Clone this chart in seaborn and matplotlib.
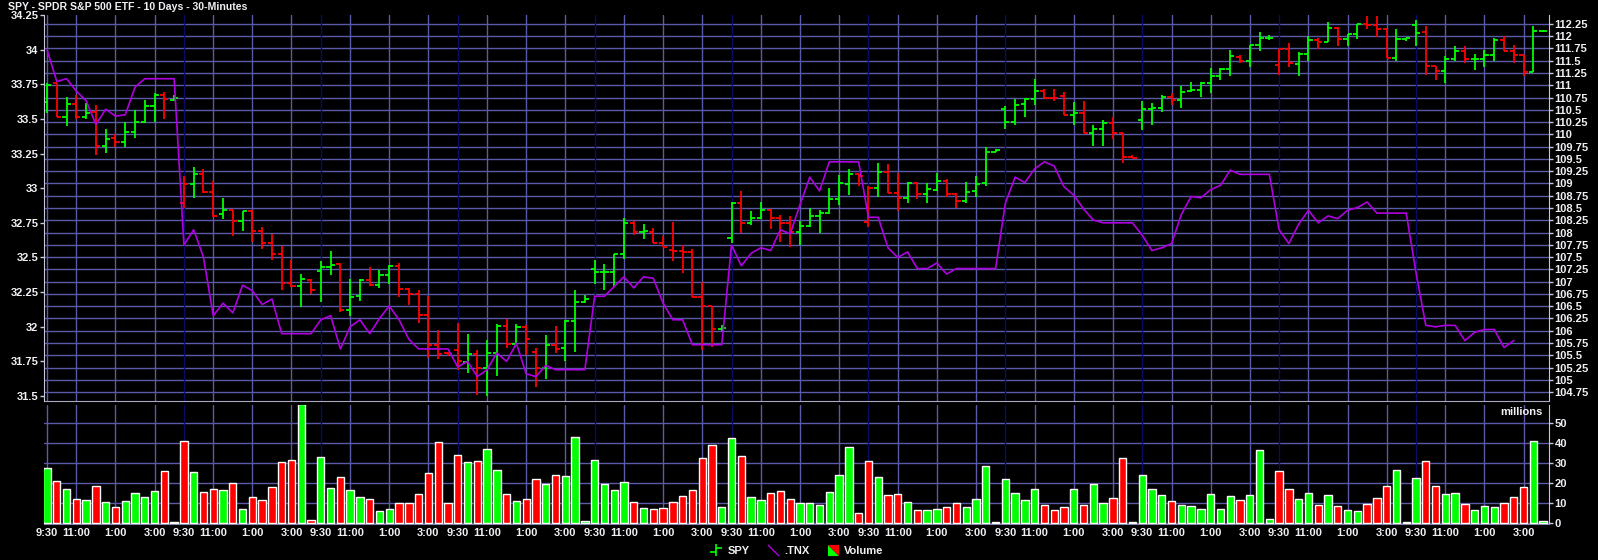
import numpy as np
import pandas as pd
import matplotlib
matplotlib.use("Agg")
import matplotlib.pyplot as plt
import seaborn as sns
from matplotlib.lines import Line2D
from matplotlib.path import Path
from matplotlib.ticker import FuncFormatter
from matplotlib.legend_handler import HandlerTuple

# SPY 30-minute bars, 11 sessions x 14 bars (9:30 ... 4:00)
spy_open = [
    110.66, 111.04, 110.36, 110.61, 110.36, 110.46, 109.77, 109.93, 109.85, 110.04, 110.26, 110.57, 110.80, 110.70,
    108.61, 108.99, 109.19, 108.83, 108.38, 108.46, 108.24, 108.43, 108.04, 107.78, 107.56, 106.97, 106.92, 107.03,
    107.22, 107.29, 107.36, 106.42, 106.71, 107.03, 106.94, 107.13, 107.32, 106.86, 106.74, 106.33, 105.71, 105.54,
    105.60, 105.37, 105.53, 105.25, 105.54, 106.10, 105.73, 106.07, 105.57, 105.25, 105.71, 105.64, 106.20, 106.59,
    107.25, 107.20, 107.20, 107.56, 108.19, 108.02, 108.02, 107.78, 107.64, 107.63, 107.60, 106.68, 106.50, 106.03,
    107.88, 108.61, 108.20, 108.29, 108.46, 108.29, 108.20, 108.02, 108.13, 108.34, 108.39, 108.68, 108.99, 109.19,
    108.21, 108.90, 109.23, 108.80, 108.70, 109.01, 108.78, 108.86, 109.05, 108.79, 108.65, 108.84, 109.00, 109.65,
    110.51, 110.26, 110.61, 110.71, 110.88, 110.75, 110.79, 110.39, 110.43, 110.02, 110.11, 110.23, 110.02, 109.53,
    110.29, 110.51, 110.53, 110.77, 110.69, 110.89, 110.90, 111.05, 111.19, 111.34, 111.58, 111.50, 111.82, 111.96,
    111.41, 111.73, 111.43, 111.64, 111.92, 111.89, 112.16, 111.94, 112.04, 112.24, 112.22, 112.15, 111.56, 111.94,
    112.22, 112.08, 111.39, 111.28, 111.53, 111.69, 111.53, 111.54, 111.62, 111.92, 111.70, 111.62, 111.26, 112.11,
]
spy_high = [
    111.05, 111.05, 110.76, 110.80, 110.63, 110.60, 110.11, 110.01, 110.26, 110.50, 110.69, 110.84, 110.87, 110.80,
    109.16, 109.34, 109.29, 109.05, 108.71, 108.46, 108.43, 108.46, 108.11, 107.97, 107.72, 107.44, 107.15, 107.05,
    107.43, 107.63, 107.39, 107.05, 107.05, 107.29, 107.24, 107.34, 107.39, 106.88, 106.84, 106.71, 106.02, 105.57,
    106.15, 105.93, 105.61, 105.81, 106.13, 106.23, 106.14, 106.11, 105.64, 105.91, 106.10, 106.22, 106.84, 106.72,
    107.44, 107.36, 107.56, 108.29, 108.24, 108.17, 108.09, 107.92, 108.22, 107.75, 107.66, 107.00, 106.50, 106.12,
    108.63, 108.85, 108.44, 108.63, 108.47, 108.36, 108.34, 108.24, 108.49, 108.46, 108.90, 109.17, 109.29, 109.19,
    108.95, 109.41, 109.40, 109.21, 109.03, 109.02, 109.00, 109.21, 109.10, 108.80, 109.02, 109.15, 109.75, 109.70,
    110.58, 110.72, 110.73, 111.12, 110.92, 110.92, 110.86, 110.65, 110.68, 110.19, 110.29, 110.36, 110.02, 109.57,
    110.67, 110.63, 110.80, 110.84, 110.99, 111.06, 111.06, 111.35, 111.35, 111.72, 111.61, 111.82, 112.09, 112.02,
    111.73, 111.87, 111.67, 112.00, 111.97, 112.28, 112.18, 112.05, 112.25, 112.41, 112.40, 112.15, 112.15, 111.97,
    112.33, 112.20, 111.39, 111.60, 111.79, 111.80, 111.64, 111.72, 111.96, 112.00, 111.82, 111.62, 112.21, 112.13,
]
spy_low = [
    110.43, 110.35, 110.16, 110.31, 110.31, 109.57, 109.63, 109.74, 109.74, 109.93, 110.23, 110.25, 110.31, 110.67,
    108.51, 108.71, 108.80, 108.31, 108.27, 107.92, 108.04, 107.81, 107.66, 107.44, 106.84, 106.90, 106.49, 106.74,
    106.59, 107.13, 106.39, 106.30, 106.61, 106.91, 106.88, 106.95, 106.69, 106.52, 106.15, 105.44, 105.42, 105.49,
    105.20, 105.13, 104.69, 104.67, 105.08, 105.64, 105.73, 105.50, 104.86, 105.01, 105.55, 105.39, 105.57, 106.56,
    106.95, 106.83, 106.90, 107.47, 107.96, 107.87, 107.78, 107.70, 107.43, 107.17, 106.68, 105.61, 105.67, 105.99,
    107.78, 107.99, 108.15, 108.27, 108.07, 107.81, 107.70, 107.75, 108.12, 107.99, 108.38, 108.56, 108.77, 108.95,
    108.12, 108.72, 108.80, 108.43, 108.60, 108.68, 108.61, 108.85, 108.72, 108.51, 108.61, 108.72, 108.95, 109.65,
    110.10, 110.19, 110.36, 110.60, 110.73, 110.67, 110.39, 110.19, 110.02, 109.76, 109.76, 109.90, 109.41, 109.51,
    110.08, 110.19, 110.46, 110.60, 110.54, 110.86, 110.76, 110.84, 111.10, 111.18, 111.45, 111.38, 111.69, 111.92,
    111.21, 111.37, 111.18, 111.50, 111.73, 111.88, 111.80, 111.80, 111.94, 112.15, 111.98, 111.56, 111.50, 111.91,
    111.79, 111.21, 111.10, 111.04, 111.50, 111.46, 111.30, 111.37, 111.50, 111.69, 111.45, 111.18, 111.26, 112.09,
]
spy_close = [
    111.00, 110.36, 110.61, 110.36, 110.44, 109.77, 109.91, 109.85, 110.04, 110.26, 110.57, 110.80, 110.72, 110.73,
    108.99, 109.19, 108.83, 108.34, 108.46, 108.24, 108.43, 108.04, 107.78, 107.56, 106.97, 106.92, 107.05, 106.84,
    107.29, 107.34, 106.42, 106.69, 107.03, 106.93, 107.13, 107.32, 106.86, 106.74, 106.33, 105.71, 105.53, 105.52,
    105.39, 105.53, 105.25, 105.54, 106.10, 105.73, 106.07, 105.84, 105.25, 105.71, 105.62, 106.20, 106.59, 106.64,
    107.20, 107.20, 107.56, 108.19, 108.02, 108.03, 107.78, 107.71, 107.63, 107.60, 106.68, 106.50, 106.03, 106.05,
    108.61, 108.20, 108.29, 108.46, 108.29, 108.20, 108.02, 108.13, 108.34, 108.39, 108.68, 109.00, 109.19, 109.15,
    108.90, 109.23, 108.80, 108.70, 109.01, 108.78, 108.88, 109.04, 108.79, 108.65, 108.83, 108.99, 109.65, 109.68,
    110.26, 110.59, 110.71, 110.88, 110.75, 110.74, 110.39, 110.43, 110.02, 110.11, 110.23, 110.02, 109.53, 109.51,
    110.51, 110.53, 110.77, 110.69, 110.87, 110.90, 111.05, 111.19, 111.34, 111.60, 111.50, 111.82, 111.96, 111.97,
    111.73, 111.46, 111.64, 111.92, 111.89, 112.16, 111.94, 112.04, 112.24, 112.22, 112.15, 111.56, 111.94, 111.96,
    112.07, 111.39, 111.28, 111.53, 111.69, 111.53, 111.54, 111.62, 111.92, 111.70, 111.62, 111.26, 112.11, 112.11,
]
# .TNX (left axis), ends three bars before the last session closes
tnx = [
    34.00, 33.77, 33.79, 33.70, 33.63, 33.46, 33.57, 33.52, 33.53, 33.73, 33.79, 33.79, 33.79, 33.79,
    32.59, 32.70, 32.50, 32.08, 32.17, 32.10, 32.30, 32.26, 32.16, 32.20, 31.95, 31.95, 31.95, 31.95,
    32.05, 32.08, 31.84, 32.00, 32.05, 31.95, 32.06, 32.15, 32.05, 31.91, 31.84, 31.84, 31.84, 31.84,
    31.71, 31.75, 31.64, 31.69, 31.81, 31.75, 31.88, 31.66, 31.64, 31.72, 31.69, 31.69, 31.69, 31.69,
    32.22, 32.22, 32.29, 32.36, 32.28, 32.36, 32.35, 32.17, 32.05, 32.05, 31.87, 31.87, 31.87, 31.87,
    32.59, 32.44, 32.53, 32.57, 32.55, 32.70, 32.67, 32.88, 33.08, 32.98, 33.19, 33.19, 33.19, 33.19,
    32.79, 32.79, 32.57, 32.50, 32.54, 32.42, 32.42, 32.46, 32.38, 32.42, 32.42, 32.42, 32.42, 32.42,
    32.89, 33.08, 33.04, 33.14, 33.19, 33.16, 33.01, 32.95, 32.85, 32.77, 32.75, 32.75, 32.75, 32.75,
    32.66, 32.55, 32.57, 32.60, 32.81, 32.94, 32.93, 32.99, 33.02, 33.13, 33.10, 33.10, 33.10, 33.10,
    32.70, 32.60, 32.74, 32.84, 32.75, 32.80, 32.78, 32.84, 32.86, 32.90, 32.82, 32.82, 32.82, 32.82,
    32.39, 32.01, 32.00, 32.01, 32.01, 31.90, 31.96, 31.98, 31.98, 31.85, 31.90,
]
# volume, millions
volume = [
    27.5, 21, 17, 12, 11.5, 18.5, 10.5, 8, 11, 15, 13, 16, 26, 0.5,
    41, 25.5, 15.5, 17, 16.5, 20, 7, 13, 11.5, 18, 30.5, 31.5, 59.5, 1.5,
    33, 17.5, 23, 16.5, 13, 12, 6, 7, 10, 10, 14.5, 25, 40.5, 10,
    34, 30.5, 31, 37, 26.5, 14.5, 11, 12, 22, 19.5, 24, 23.5, 43, 1,
    31.5, 19.5, 16.5, 20.5, 10.5, 7.5, 7, 7.5, 10.5, 13.5, 16.5, 32.5, 39, 8,
    42.5, 33.5, 13, 11.5, 15, 16, 12, 10, 10, 9, 15.5, 24, 38, 5,
    31, 23, 14, 14.5, 10.5, 6.5, 6.5, 7, 8, 10, 8, 12, 28.5, 0.5,
    22, 15, 11.5, 17, 9, 6.5, 8, 17, 9, 19.5, 10, 12.5, 32.5, 0.5,
    24, 17, 14, 11, 9, 8.5, 7, 14.5, 7, 13.5, 11.5, 14, 36.5, 2,
    26, 17, 12, 15, 9, 14, 8.5, 6.5, 6, 9.5, 12.5, 18.5, 26.5, 0.5,
    22.5, 31, 18.5, 14.5, 15, 9.5, 6.5, 8.5, 8, 10, 13, 18, 41, 1,
]
session_ticks = [0, 3, 7, 11]
session_labels = ["9:30", "11:00", "1:00", "3:00"]
n_sessions = 11
bars_per_session = 14

GREEN = "#00ff00"
RED = "#ff0000"
PURPLE = "#b000e2"
GRID = "#5a5aa8"
DAYLINE = "#0a0a6a"
TXT = "#f0f0f4"
AXLINE = "#c8c8dc"

n = len(spy_close)
idx = np.arange(n)
up = ["up"] + ["up" if spy_close[k] >= spy_close[k - 1] else "down" for k in range(1, n)]
cols = [GREEN if u == "up" else RED for u in up]
df = pd.DataFrame({"bar": idx, "volume": volume, "dir": up})

sns.set_style("dark", {"axes.facecolor": "black", "figure.facecolor": "black",
                       "axes.edgecolor": AXLINE, "grid.color": GRID})
plt.rcParams["font.family"] = ["Liberation Sans", "DejaVu Sans"]
plt.rcParams["font.weight"] = "bold"

fig = plt.figure(figsize=(15.98, 5.6), dpi=100, facecolor="black")
ax = fig.add_axes([44 / 1598, 1 - 401 / 560, 1505 / 1598, 386 / 560])
axv = fig.add_axes([44 / 1598, 1 - 524 / 560, 1505 / 1598, 119 / 560])
xlim = (-0.31, 153.6)

tick_pos = [d * bars_per_session + t for d in range(n_sessions) for t in session_ticks]
tick_lab = session_labels * n_sessions

# .TNX on the left scale (twin created first so the SPY scale can be put back on the right)
axt = ax.twinx()

# price panel: SPY bars on the right scale
ax.set_xlim(*xlim)
ax.set_ylim(104.57, 112.43)
ax.set_yticks(np.arange(104.75, 112.26, 0.25))
ax.yaxis.set_major_formatter(FuncFormatter(lambda v, p: f"{v:g}"))
ax.grid(axis="y", color=GRID, lw=1)
ax.set_axisbelow(True)
for p in tick_pos:
    c = DAYLINE if (p % bars_per_session == 0 and p > 0) else GRID
    ax.axvline(p, color=c, lw=1, zorder=0.6)
    axv.axvline(p, color=c, lw=1, zorder=0.6)
ax.vlines(idx, spy_low, spy_high, colors=cols, lw=1.3, zorder=3)
ax.hlines(spy_open, idx - 0.42, idx, colors=cols, lw=1.3, zorder=3)
ax.hlines(spy_close, idx, idx + 0.42, colors=cols, lw=1.3, zorder=3)
ax.tick_params(axis="x", bottom=False, labelbottom=False)

sns.lineplot(x=np.arange(len(tnx)), y=tnx, ax=axt, color=PURPLE, lw=1.2, zorder=4)
axt.set_xlim(*xlim)
axt.set_ylim(31.464, 34.25)
axt.set_yticks(np.arange(31.5, 34.26, 0.25))
axt.yaxis.set_major_formatter(FuncFormatter(lambda v, p: f"{v:g}"))
axt.set_ylabel("")
axt.grid(False)

ax.yaxis.tick_right()
ax.yaxis.set_label_position("right")
axt.yaxis.tick_left()
axt.yaxis.set_label_position("left")
for a in (ax, axt):
    a.tick_params(axis="y", colors=AXLINE, labelcolor=TXT, labelsize=8, length=3, width=1, pad=1)
    for s in a.spines.values():
        s.set_visible(False)
ax.spines["right"].set_visible(True)
ax.spines["right"].set_color(AXLINE)
ax.spines["bottom"].set_visible(True)
ax.spines["bottom"].set_color("#a8a8c4")
axt.spines["left"].set_visible(True)
axt.spines["left"].set_color(AXLINE)

# volume panel
sns.barplot(data=df, x="bar", y="volume", hue="dir", palette={"up": GREEN, "down": RED},
            dodge=False, width=0.75, saturation=1, errorbar=None, legend=False, ax=axv, zorder=3)
axv.set_xlim(*xlim)
axv.set_ylim(-0.5, 59)
axv.set_yticks(range(0, 51, 10))
axv.yaxis.tick_right()
axv.grid(axis="y", color=GRID, lw=1)
axv.set_axisbelow(True)
axv.set_xticks(tick_pos)
axv.set_xticklabels(tick_lab)
axv.set_xlabel("")
axv.set_ylabel("")
axv.tick_params(axis="x", colors=AXLINE, labelcolor=TXT, labelsize=8, length=2, pad=1)
axv.tick_params(axis="y", colors=AXLINE, labelcolor=TXT, labelsize=8, length=3, width=1, pad=1)
for s in ["top", "left"]:
    axv.spines[s].set_visible(False)
axv.spines["right"].set_color(AXLINE)
axv.spines["bottom"].set_color("#8888aa")
fig.text(1543 / 1598, 1 - 412 / 560, "millions", ha="right", va="center", color=TXT, fontsize=8)

fig.text(8 / 1598, 1 - 7 / 560, "SPY - SPDR S&P 500 ETF - 10 Days - 30-Minutes",
         ha="left", va="center", color=TXT, fontsize=7.6)

# legend
ohlc_icon = Path([(0, -1), (0, 1), (-1, -0.3), (0, -0.3), (0, 0.3), (1, 0.3)],
                 [Path.MOVETO, Path.LINETO, Path.MOVETO, Path.LINETO, Path.MOVETO, Path.LINETO])
diag_icon = Path([(-1, 1), (1, -1)], [Path.MOVETO, Path.LINETO])
tri_lo = Path([(-1, -1), (-1, 1), (1, -1), (-1, -1)])
tri_hi = Path([(1, 1), (-1, 1), (1, -1), (1, 1)])
h_spy = Line2D([], [], ls="none", marker=ohlc_icon, ms=8, mec=GREEN, mfc="none", mew=1.2)
h_tnx = Line2D([], [], ls="none", marker=diag_icon, ms=8, mec=PURPLE, mfc="none", mew=1.0)
h_vg = Line2D([], [], ls="none", marker=tri_lo, ms=8, mfc=GREEN, mec="none")
h_vr = Line2D([], [], ls="none", marker=tri_hi, ms=8, mfc=RED, mec="none")
fig.legend(handles=[h_spy, h_tnx, (h_vg, h_vr)], labels=["SPY", ".TNX", "Volume"],
           loc="center", bbox_to_anchor=(797 / 1598, 1 - 551 / 560), ncol=3, frameon=False,
           labelcolor=TXT, fontsize=8, handlelength=1.0, handletextpad=0.5, columnspacing=1.6,
           borderpad=0, handler_map={tuple: HandlerTuple(ndivide=1)})

fig.savefig("out.png", dpi=100, facecolor="black")
